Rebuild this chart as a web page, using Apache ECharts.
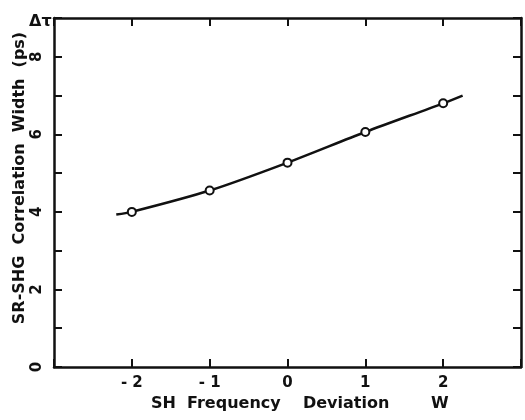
<!DOCTYPE html>
<html>
<head>
<meta charset="utf-8">
<script src="https://cdn.jsdelivr.net/npm/echarts@6/dist/echarts.min.js"></script>
<style>
  html, body { margin: 0; padding: 0; background: #fff; }
  #chart { width: 525px; height: 420px; }
</style>
</head>
<body>
<div id="chart"></div>
<script>
// measured points (SH frequency deviation, correlation width in ps)
const deviation = [-2, -1, 0, 1, 2];
const width = [4.0, 4.55, 5.27, 6.06, 6.8];
// fitted curve (runs a bit past the end points)
const fitX = [-2.2, -2, -1, 0, 1, 2, 2.25];
const fitY = [3.93, 4.0, 4.55, 5.27, 6.06, 6.8, 7.0];
const xTicks = [-2, -1, 0, 1, 2];
const yTicks = [0, 2, 4, 6, 8];

const ink = '#111';
const titleFont = 'bold 16px "DejaVu Sans"';

const chart = echarts.init(document.getElementById('chart'), null, { renderer: 'canvas' });

const frameLine = { show: true, onZero: false, lineStyle: { color: ink, width: 2.5 } };
const inTick = { show: true, inside: true, length: 8, lineStyle: { color: ink, width: 2 } };

const option = {
    animation: false,
    backgroundColor: '#fff',
    grid: { left: 54, right: 4, top: 18, bottom: 53 },
    xAxis: [{
        type: 'value',
        min: -3,
        max: 3,
        interval: 1,
        axisLine: frameLine,
        axisTick: inTick,
        splitLine: { show: false },
        axisLabel: {
            color: ink,
            fontFamily: 'DejaVu Sans',
            fontWeight: 'bold',
            fontSize: 15,
            margin: 9,
            formatter: v => xTicks.indexOf(v) >= 0 ? String(v).replace('-', '- ') : ''
        }
    }, {
        type: 'value',
        position: 'top',
        min: -3,
        max: 3,
        interval: 1,
        axisLine: frameLine,
        axisTick: inTick,
        axisLabel: { show: false },
        splitLine: { show: false }
    }],
    yAxis: [{
        type: 'value',
        min: 0,
        max: 9,
        interval: 1,
        axisLine: frameLine,
        axisTick: inTick,
        splitLine: { show: false },
        axisLabel: {
            color: ink,
            fontFamily: 'DejaVu Sans',
            fontWeight: 'bold',
            fontSize: 15,
            rotate: 90,
            margin: 9,
            formatter: v => yTicks.indexOf(v) >= 0 ? String(v) : ''
        }
    }, {
        type: 'value',
        position: 'right',
        min: 0,
        max: 9,
        interval: 1,
        axisLine: frameLine,
        axisTick: inTick,
        axisLabel: { show: false },
        splitLine: { show: false }
    }],
    graphic: [{
        type: 'text',
        x: 20,
        y: 178,
        rotation: Math.PI / 2,
        style: {
            text: 'SR-SHG  Correlation  Width  (ps)',
            fill: ink,
            font: titleFont,
            textAlign: 'center',
            textVerticalAlign: 'middle'
        }
    }, {
        type: 'text',
        x: 29,
        y: 14,
        style: { text: 'Δτ', fill: ink, font: titleFont }
    }, {
        type: 'text',
        x: 151,
        y: 396,
        style: { text: 'SH  Frequency    Deviation', fill: ink, font: titleFont }
    }, {
        type: 'text',
        x: 431,
        y: 396,
        style: { text: 'W', fill: ink, font: titleFont }
    }],
    series: [{
        name: 'fit',
        type: 'line',
        smooth: 0.3,
        symbol: 'none',
        lineStyle: { color: ink, width: 2.5 },
        data: fitX.map((x, i) => [x, fitY[i]]),
        z: 2
    }, {
        name: 'measured',
        type: 'scatter',
        symbol: 'circle',
        symbolSize: 8,
        itemStyle: { color: '#fff', borderColor: ink, borderWidth: 2, opacity: 1 },
        data: deviation.map((x, i) => [x, width[i]]),
        z: 3
    }]
};
chart.setOption(option);
</script>
</body>
</html>
